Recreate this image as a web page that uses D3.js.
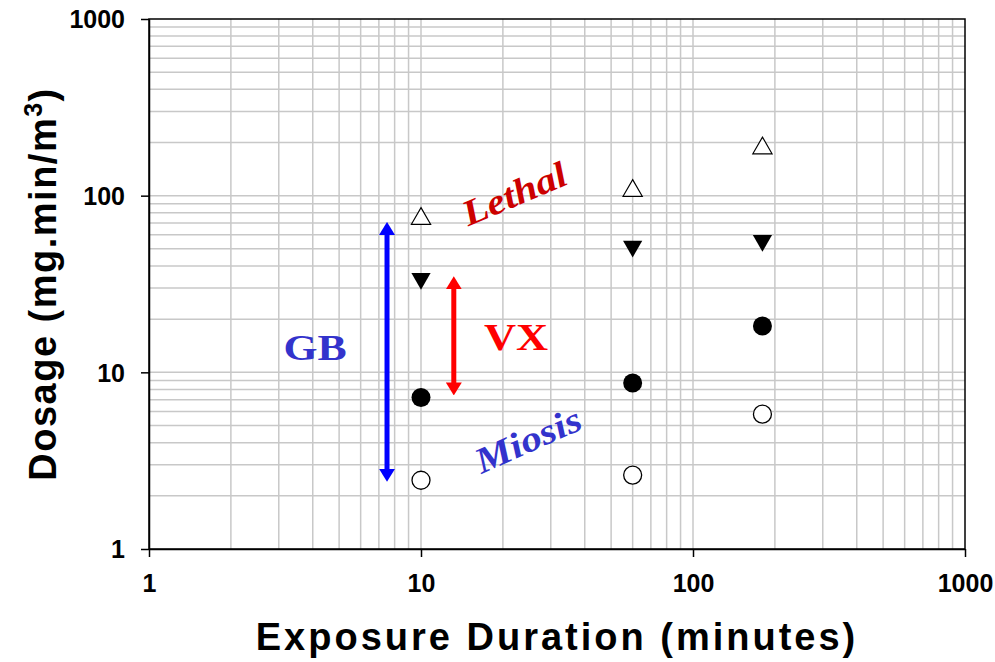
<!DOCTYPE html>
<meta charset="utf-8">
<style>
body { margin: 0; background: #fff; }
.axis text { font: bold 25px Arial, "Liberation Sans", sans-serif; fill: #000; }
.axis path, .axis line { stroke: #000; stroke-width: 1.5; }
.grid line { stroke: #c8c8c8; stroke-width: 1.5; }
</style>
<svg width="995" height="662" id="chart"></svg>
<script src="https://cdn.jsdelivr.net/npm/d3@7"></script>
<script>
// exposure durations (minutes)
var durations = [10, 60, 180];
// series values (mg.min/m3)
var gbLethal = [75, 108, 188];
var vxLethal = [33.5, 51, 55];
var vxMiosis = [7.2, 8.7, 18.3];
var gbMiosis = [2.45, 2.62, 5.8];
// range arrows: [x, yLow, yHigh]
var gbArrow = [7.5, 2.4, 71];
var vxArrow = [13.2, 7.4, 35];
var tickValues = [1, 10, 100, 1000];

var svg = d3.select("#chart"),
    margin = {top: 19, right: 30, bottom: 113, left: 149},
    width = +svg.attr("width") - margin.left - margin.right,
    height = +svg.attr("height") - margin.top - margin.bottom;

var x = d3.scaleLog().domain([1, 1000]).range([margin.left, margin.left + width]);
var y = d3.scaleLog().domain([1, 1000]).range([margin.top + height, margin.top]);

var minor = [];
[1, 10, 100].forEach(function(d) { for (var i = 2; i <= 9; i++) minor.push(d * i); });
var allLines = minor.concat([10, 100]);

// grid
var grid = svg.append("g").attr("class", "grid");
grid.selectAll(".gx").data(allLines).enter().append("line")
    .attr("x1", d => x(d)).attr("x2", d => x(d))
    .attr("y1", y(1)).attr("y2", y(1000));
grid.selectAll(".gy").data(allLines).enter().append("line")
    .attr("y1", d => y(d)).attr("y2", d => y(d))
    .attr("x1", x(1)).attr("x2", x(1000));

// frame
svg.append("rect")
    .attr("x", x(1)).attr("y", y(1000))
    .attr("width", x(1000) - x(1)).attr("height", y(1) - y(1000))
    .attr("fill", "none").attr("stroke", "#000").attr("stroke-width", 1.5);

svg.append("g").attr("class", "axis")
    .attr("transform", `translate(0,${y(1)})`)
    .call(d3.axisBottom(x).tickValues(tickValues).tickFormat(d3.format("d")).tickSize(8).tickSizeOuter(0).tickPadding(17));

svg.append("g").attr("class", "axis")
    .attr("transform", `translate(${x(1)},0)`)
    .call(d3.axisLeft(y).tickValues(tickValues).tickFormat(d3.format("d")).tickSize(8).tickSizeOuter(0).tickPadding(16))
    .call(g => g.selectAll("text").attr("dy", "0.35em"));

// axis titles
svg.append("text")
    .attr("x", 557).attr("y", 650)
    .attr("text-anchor", "middle")
    .style("font", "bold 38px Arial, 'Liberation Sans', sans-serif")
    .style("letter-spacing", "3px")
    .text("Exposure Duration (minutes)");

var yl = svg.append("text")
    .attr("transform", "translate(56,284) rotate(-90)")
    .attr("text-anchor", "middle")
    .style("font", "bold 38px Arial, 'Liberation Sans', sans-serif")
    .style("letter-spacing", "1.5px");
yl.append("tspan").text("Dosage (mg.min/m");
yl.append("tspan").attr("dy", -14).style("font-size", "25px").text("3");
yl.append("tspan").attr("dy", 14).text(")");

// arrows
var defs = svg.append("defs");
function marker(id, color) {
  defs.append("marker").attr("id", id)
      .attr("viewBox", "0 0 13 16").attr("refX", 6).attr("refY", 8)
      .attr("markerWidth", 13 / 5).attr("markerHeight", 16 / 5)
      .attr("markerUnits", "strokeWidth")
      .attr("orient", "auto-start-reverse")
    .append("path").attr("d", "M0,0L13,8L0,16Z").attr("fill", color);
}
marker("ab", "#0000ff");
marker("ar", "#ff0000");

[[gbArrow, "#0000ff", "ab"], [vxArrow, "#ff0000", "ar"]].forEach(function(a) {
  var d = a[0];
  svg.append("line")
      .attr("x1", x(d[0])).attr("x2", x(d[0]))
      .attr("y1", y(d[1]) - 7).attr("y2", y(d[2]) + 7)
      .attr("stroke", a[1]).attr("stroke-width", 5)
      .attr("marker-start", `url(#${a[2]})`)
      .attr("marker-end", `url(#${a[2]})`);
});

// data points
var pts = svg.append("g");
var triUp = d3.symbol().type(d3.symbolTriangle).size(160);
pts.selectAll(".gl").data(durations).enter().append("path")
    .attr("d", triUp)
    .attr("transform", (d, i) => `translate(${x(d)},${y(gbLethal[i]) + 1})`)
    .attr("fill", "#fff").attr("stroke", "#000").attr("stroke-width", 1.2);
pts.selectAll(".vl").data(durations).enter().append("path")
    .attr("d", triUp)
    .attr("transform", (d, i) => `translate(${x(d)},${y(vxLethal[i]) - 1}) rotate(180)`)
    .attr("fill", "#000");
pts.selectAll(".vm").data(durations).enter().append("circle")
    .attr("cx", d => x(d)).attr("cy", (d, i) => y(vxMiosis[i]))
    .attr("r", 9.5).attr("fill", "#000");
pts.selectAll(".gm").data(durations).enter().append("circle")
    .attr("cx", d => x(d)).attr("cy", (d, i) => y(gbMiosis[i]))
    .attr("r", 9).attr("fill", "#fff").attr("stroke", "#000").attr("stroke-width", 1.3);

// labels
var serif = "'Liberation Serif', 'DejaVu Serif', serif";
svg.append("text").attr("transform", "translate(315,360) scale(1.25,1)").attr("text-anchor", "middle")
    .style("font", "bold 35px " + serif).attr("fill", "#3333cc").text("GB");
svg.append("text").attr("transform", "translate(516,350) scale(1.2,1)").attr("text-anchor", "middle")
    .style("font", "bold 37px " + serif).attr("fill", "#ff0000").text("VX");
svg.append("text").attr("transform", "translate(519,205) rotate(-23) scale(1.15,1)").attr("text-anchor", "middle")
    .style("font", "italic bold 36px " + serif).attr("fill", "#cc0000").text("Lethal");
svg.append("text").attr("transform", "translate(533,451) rotate(-24) scale(1.15,1)").attr("text-anchor", "middle")
    .style("font", "italic bold 36px " + serif).attr("fill", "#3333cc").text("Miosis");
</script>
